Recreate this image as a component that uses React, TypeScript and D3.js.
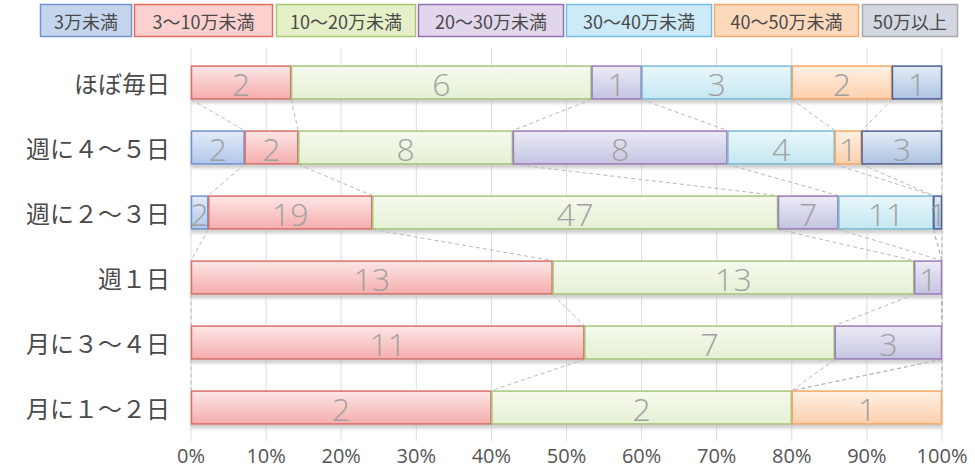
import React, { useEffect, useRef } from 'react';
import * as d3 from 'd3';

// frequency categories (rows, top to bottom)
const categories = ['ほぼ毎日', '週に４～５日', '週に２～３日', '週１日', '月に３～４日', '月に１～２日'];

// income bands (series)
const seriesNames = ['3万未満', '3～10万未満', '10～20万未満', '20～30万未満', '30～40万未満', '40～50万未満', '50万以上'];

// counts per category, one array per series
const under3 = [0, 2, 2, 0, 0, 0];
const from3to10 = [2, 2, 19, 13, 11, 2];
const from10to20 = [6, 8, 47, 13, 7, 2];
const from20to30 = [1, 8, 7, 1, 3, 0];
const from30to40 = [3, 4, 11, 0, 0, 0];
const from40to50 = [2, 1, 0, 0, 0, 1];
const over50 = [1, 3, 1, 0, 0, 0];

const seriesValues = [under3, from3to10, from10to20, from20to30, from30to40, from40to50, over50];

const xTicks = [0, 0.1, 0.2, 0.3, 0.4, 0.5, 0.6, 0.7, 0.8, 0.9, 1];

// styles per series
const barStyles = [
  { top: '#e2ebf9', bottom: '#b2c7ea', stroke: '#6f92cf', legendFill: '#c5d5ee', legendStroke: '#7094cf' },
  { top: '#fde6e6', bottom: '#f5adad', stroke: '#d9706a', legendFill: '#fdd0d0', legendStroke: '#ee6a5a' },
  { top: '#f5faee', bottom: '#e5f0d4', stroke: '#a6c77a', legendFill: '#e6f0c8', legendStroke: '#a8c870' },
  { top: '#ebebf8', bottom: '#c4c4e1', stroke: '#9a7ab8', legendFill: '#e2d6ec', legendStroke: '#9070b0' },
  { top: '#e8f7fb', bottom: '#c6e7f2', stroke: '#7abcd6', legendFill: '#cdeaf8', legendStroke: '#72c0e8' },
  { top: '#fff1e6', bottom: '#fccfac', stroke: '#f5a866', legendFill: '#fdd9bc', legendStroke: '#f8a868' },
  { top: '#e4ecf6', bottom: '#adc4e3', stroke: '#4e5f90', legendFill: '#d3d7e2', legendStroke: '#a8a8a8' },
];

// legend box layout [x, width]
const legendBoxes: [number, number][] = [
  [40, 92], [134, 139], [276, 140], [418, 146], [566, 146], [714, 145], [862, 96],
];

const App: React.FC = () => {
  const ref = useRef<SVGSVGElement>(null);

  useEffect(() => {
    if (!ref.current) return;
    const width = 975;
    const height = 471;
    const svg = d3.select(ref.current);
    svg.selectAll('*').remove();
    svg.attr('width', width).attr('height', height);

    const jp = '"Noto Sans CJK JP", "Noto Sans", sans-serif';
    const num = '"Open Sans", "Noto Sans", sans-serif';

    const defs = svg.append('defs');
    barStyles.forEach((s, i) => {
      const lg = defs.append('linearGradient')
        .attr('id', `grad${i}`)
        .attr('x1', 0).attr('y1', 0).attr('x2', 0).attr('y2', 1);
      lg.append('stop').attr('offset', '0%').attr('stop-color', s.top);
      lg.append('stop').attr('offset', '100%').attr('stop-color', s.bottom);
    });
    defs.append('filter')
      .attr('id', 'shadow')
      .attr('x', '-5%').attr('y', '-50%').attr('width', '110%').attr('height', '200%')
      .append('feGaussianBlur')
      .attr('stdDeviation', 1.6);

    const x = d3.scaleLinear().domain([0, 1]).range([191, 942]);
    const y = d3.scaleBand<string>()
      .domain(categories)
      .range([50, 440])
      .paddingInner(0.48)
      .paddingOuter(0.24);

    // gridlines
    svg.append('g')
      .selectAll('line')
      .data(xTicks)
      .enter()
      .append('line')
      .attr('x1', d => x(d)).attr('x2', d => x(d))
      .attr('y1', 48).attr('y2', 441)
      .attr('stroke', '#dcdcdc')
      .attr('stroke-width', 1);

    // tick labels
    svg.append('g')
      .selectAll('text')
      .data(xTicks)
      .enter()
      .append('text')
      .attr('x', d => x(d))
      .attr('y', 458)
      .attr('text-anchor', 'middle')
      .attr('dominant-baseline', 'middle')
      .style('font-family', num)
      .style('font-size', '20px')
      .style('fill', '#555')
      .text(d => d3.format('.0%')(d));

    // category labels
    svg.append('g')
      .selectAll('text')
      .data(categories)
      .enter()
      .append('text')
      .attr('x', 170)
      .attr('y', d => (y(d) as number) + y.bandwidth() / 2)
      .attr('text-anchor', 'end')
      .attr('dominant-baseline', 'central')
      .style('font-family', jp)
      .style('font-size', '24px')
      .style('fill', '#4a4a4a')
      .text(d => d);

    // cumulative shares
    const rows = categories.map((c, ci) => {
      const vals = seriesValues.map(s => s[ci]);
      const total = d3.sum(vals);
      let acc = 0;
      const segs = vals.map((v, si) => {
        const x0 = acc / total;
        acc += v;
        return { si, v, x0, x1: acc / total, cat: c };
      });
      return segs;
    });

    // series lines
    const lines: { xa: number; ya: number; xb: number; yb: number }[] = [];
    for (let r = 0; r < rows.length - 1; r++) {
      const yA = (y(categories[r]) as number) + y.bandwidth();
      const yB = y(categories[r + 1]) as number;
      rows[r].forEach((seg, si) => {
        lines.push({ xa: x(seg.x1), ya: yA, xb: x(rows[r + 1][si].x1), yb: yB });
      });
    }
    svg.append('g')
      .selectAll('line')
      .data(lines)
      .enter()
      .append('line')
      .attr('x1', d => d.xa).attr('y1', d => d.ya)
      .attr('x2', d => d.xb).attr('y2', d => d.yb)
      .attr('stroke', '#b8b8b8')
      .attr('stroke-width', 1)
      .attr('stroke-dasharray', '4,3');

    // bar shadows
    svg.append('g')
      .selectAll('rect')
      .data(categories)
      .enter()
      .append('rect')
      .attr('x', x(0))
      .attr('y', d => (y(d) as number) + 2)
      .attr('width', x(1) - x(0))
      .attr('height', y.bandwidth() + 2)
      .attr('fill', '#bdbdbd')
      .attr('opacity', 0.7)
      .attr('filter', 'url(#shadow)');

    // bars
    const segAll = rows.flat().filter(s => s.v > 0);
    svg.append('g')
      .selectAll('rect')
      .data(segAll)
      .enter()
      .append('rect')
      .attr('x', d => x(d.x0) + 0.5)
      .attr('y', d => (y(d.cat) as number) + 0.5)
      .attr('width', d => x(d.x1) - x(d.x0) - 1)
      .attr('height', y.bandwidth() - 1)
      .attr('fill', d => `url(#grad${d.si})`)
      .attr('stroke', d => barStyles[d.si].stroke)
      .attr('stroke-width', 1.5);

    // value labels
    svg.append('g')
      .selectAll('text')
      .data(segAll)
      .enter()
      .append('text')
      .attr('x', d => x((d.x0 + d.x1) / 2))
      .attr('y', d => (y(d.cat) as number) + y.bandwidth() / 2 + 1)
      .attr('text-anchor', 'middle')
      .attr('dominant-baseline', 'central')
      .style('font-family', num)
      .style('font-weight', 300)
      .style('font-size', '32px')
      .style('fill', '#a0a0a0')
      .text(d => d.v);

    // legend
    const lg = svg.append('g');
    seriesNames.forEach((name, i) => {
      const [lx, lw] = legendBoxes[i];
      lg.append('rect')
        .attr('x', lx + 0.5).attr('y', 4.5)
        .attr('width', lw - 1).attr('height', 32)
        .attr('fill', barStyles[i].legendFill)
        .attr('stroke', barStyles[i].legendStroke)
        .attr('stroke-width', 1.5);
      lg.append('text')
        .attr('x', lx + lw / 2)
        .attr('y', 21)
        .attr('text-anchor', 'middle')
        .attr('dominant-baseline', 'central')
        .style('font-family', jp)
        .style('font-size', '18px')
        .style('fill', '#4a4a4a')
        .text(name);
    });
  }, []);

  return (
    <div style={{ position: 'absolute', left: 0, top: 0 }}>
      <svg ref={ref} style={{ display: 'block' }}></svg>
    </div>
  );
};

export default App;
